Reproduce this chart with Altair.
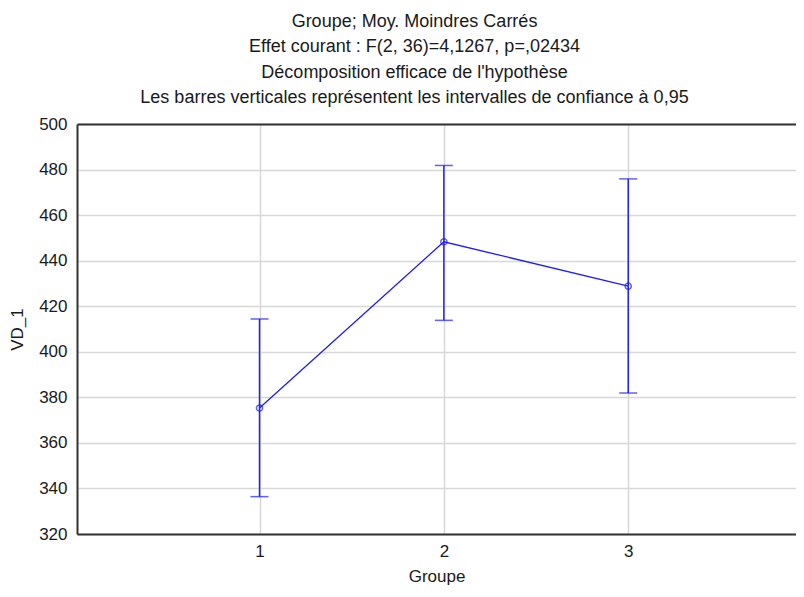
import altair as alt
import pandas as pd

groups = [1, 2, 3]
means = [375.3, 448.3, 428.8]
lower = [336.4, 413.8, 381.9]
upper = [414.4, 481.8, 475.9]
y_ticks = [320, 340, 360, 380, 400, 420, 440, 460, 480, 500]
title_lines = [
    "Groupe; Moy. Moindres Carrés",
    "Effet courant : F(2, 36)=4,1267, p=,02434",
    "Décomposition efficace de l'hypothèse",
    "Les barres verticales représentent les intervalles de confiance à 0,95",
]

df = pd.DataFrame({"Groupe": groups, "VD_1": means, "lo": lower, "hi": upper})

FONT = "Liberation Sans"
BLUE = "#1f1fee"
xscale = alt.Scale(domain=[0.01, 3.91], nice=False, zero=False)
yscale = alt.Scale(domain=[320, 500], nice=False, zero=False)

base = alt.Chart(df)

line = base.mark_line(color=BLUE, strokeWidth=1.3).encode(
    x=alt.X("Groupe:Q", scale=xscale,
            axis=alt.Axis(values=groups, title="Groupe", grid=True, tickSize=0,
                          labelPadding=9, titlePadding=9, format="d")),
    y=alt.Y("VD_1:Q", scale=yscale,
            axis=alt.Axis(values=y_ticks, title="VD_1", grid=True, tickSize=0,
                          labelPadding=10, titlePadding=12)),
)

rules = base.mark_rule(color=BLUE, strokeWidth=1.5).encode(
    x=alt.X("Groupe:Q", scale=xscale, axis=None),
    y=alt.Y("lo:Q", scale=yscale, axis=None),
    y2="hi:Q",
)

caps_lo = base.mark_tick(color=BLUE, orient="horizontal", size=18, thickness=1.5).encode(
    x=alt.X("Groupe:Q", scale=xscale, axis=None),
    y=alt.Y("lo:Q", scale=yscale, axis=None),
)
caps_hi = base.mark_tick(color=BLUE, orient="horizontal", size=18, thickness=1.5).encode(
    x=alt.X("Groupe:Q", scale=xscale, axis=None),
    y=alt.Y("hi:Q", scale=yscale, axis=None),
)

points = base.mark_point(color=BLUE, filled=False, size=38, strokeWidth=1.5, shape="circle").encode(
    x=alt.X("Groupe:Q", scale=xscale,
            axis=alt.Axis(orient="top", labels=False, ticks=False, grid=False, title=None)),
    y=alt.Y("VD_1:Q", scale=yscale, axis=None),
)

chart = (
    alt.layer(line, rules, caps_lo, caps_hi, points)
    .resolve_axis(x="independent", y="independent")
    .properties(
        width=719,
        height=410,
        autosize=alt.AutoSizeParams(type="none"),
        padding={"left": 69, "top": 116, "right": 0, "bottom": 54},
        title=alt.TitleParams(
            text=title_lines, anchor="middle", dx=-22, offset=8,
            fontSize=18, font=FONT, fontWeight="normal", color="#1a1a1a",
            lineHeight=25.5,
        ),
    )
    .configure_view(stroke=None)
    .configure_axis(
        labelFont=FONT, titleFont=FONT, labelFontSize=17, titleFontSize=17,
        titleFontWeight="normal", labelColor="#1a1a1a", titleColor="#1a1a1a",
        domainColor="#333333", domainWidth=2, gridColor="#d8d8d8", gridWidth=1.5,
    )
)

chart.save("out.html", embed_options={"renderer": "svg", "actions": False})
